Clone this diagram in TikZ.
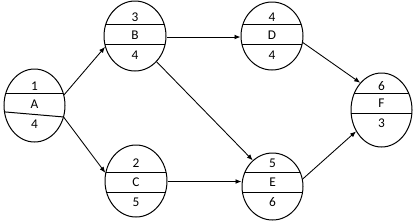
\documentclass[tikz,border=0pt]{standalone}
\usepackage{fontspec}
\setmainfont{Carlito}
\usetikzlibrary{shapes.geometric,arrows.meta}
\tikzset{
  ev/.style={ellipse, draw, line width=0.75pt, inner sep=0pt},
  lab/.style={inner sep=0pt, font=\fontsize{10}{11}\selectfont},
  chord/.style={line width=0.75pt},
  arr/.style={line width=0.65pt, -{Latex[length=4.5pt,width=3.6pt]}}
}
\begin{document}
\begin{tikzpicture}[x=0.75pt,y=-0.75pt]
\useasboundingbox (0,0) rectangle (416,223);
% nodes
\node[ev, minimum width=45.75pt, minimum height=54.75pt] (A) at (34.5,105.5) {};
\node[ev, minimum width=46.5pt, minimum height=52.5pt] (B) at (135,36) {};
\node[ev, minimum width=46.5pt, minimum height=51pt] (D) at (272,36) {};
\node[ev, minimum width=45.75pt, minimum height=55.5pt] (F) at (381.5,110) {};
\node[ev, minimum width=46.5pt, minimum height=54pt] (C) at (136,181) {};
\node[ev, minimum width=45.75pt, minimum height=50.25pt] (E) at (272.5,186.5) {};
% chords
\begin{scope}
\clip (34.5,105.5) ellipse [x radius=22.875pt, y radius=27.375pt];
\draw[chord] (0,93) -- (70,93);
\draw[chord] (0,111.5) -- (70,117.5);
\end{scope}
\begin{scope}
\clip (135,36) ellipse [x radius=23.25pt, y radius=26.25pt];
\draw[chord] (100,24) -- (170,24);
\draw[chord] (100,44) -- (170,44);
\end{scope}
\begin{scope}
\clip (272,36) ellipse [x radius=23.25pt, y radius=25.5pt];
\draw[chord] (235,24) -- (310,24);
\draw[chord] (235,44) -- (310,44);
\end{scope}
\begin{scope}
\clip (381.5,110) ellipse [x radius=22.875pt, y radius=27.75pt];
\draw[chord] (345,93) -- (416,93);
\draw[chord] (345,113) -- (416,113);
\end{scope}
\begin{scope}
\clip (136,181) ellipse [x radius=23.25pt, y radius=27pt];
\draw[chord] (100,172) -- (170,172);
\draw[chord] (100,192) -- (170,192);
\end{scope}
\begin{scope}
\clip (272.5,186.5) ellipse [x radius=22.875pt, y radius=25.125pt];
\draw[chord] (235,172) -- (310,172);
\draw[chord] (235,192) -- (310,192);
\end{scope}
% labels
\node[lab] (a1) at (34.5,86) {1};
\node[lab] (a2) at (34.5,104) {A};
\node[lab] (a3) at (34.5,124) {4};
\node[lab] (b1) at (135,17) {3};
\node[lab] (b2) at (135,35) {B};
\node[lab] (b3) at (135,55) {4};
\node[lab] (d1) at (272,17) {4};
\node[lab] (d2) at (272,35) {D};
\node[lab] (d3) at (272,55) {4};
\node[lab] (f1) at (381.5,86) {6};
\node[lab] (f2) at (381.5,103) {F};
\node[lab] (f3) at (381.5,123) {3};
\node[lab] (c1) at (136,163) {2};
\node[lab] (c2) at (136,182) {C};
\node[lab] (c3) at (136,202) {5};
\node[lab] (e1) at (272.5,163) {5};
\node[lab] (e2) at (272.5,182) {E};
\node[lab] (e3) at (272.5,202) {6};
% connectors
\draw[arr] (A.20) -- (B.200);
\draw[arr] (A.-22) -- (C.165);
\draw[arr] (B.east |- 0,37) -- (D.west |- 0,37);
\draw[arr] (B.-50) -- (E.127);
\draw[arr] (C.east |- 0,181.5) -- (E.west |- 0,181.5);
\draw[arr] (D.-12) -- (F.128);
\draw[arr] (E.14) -- (F.220);
\end{tikzpicture}
\end{document}
